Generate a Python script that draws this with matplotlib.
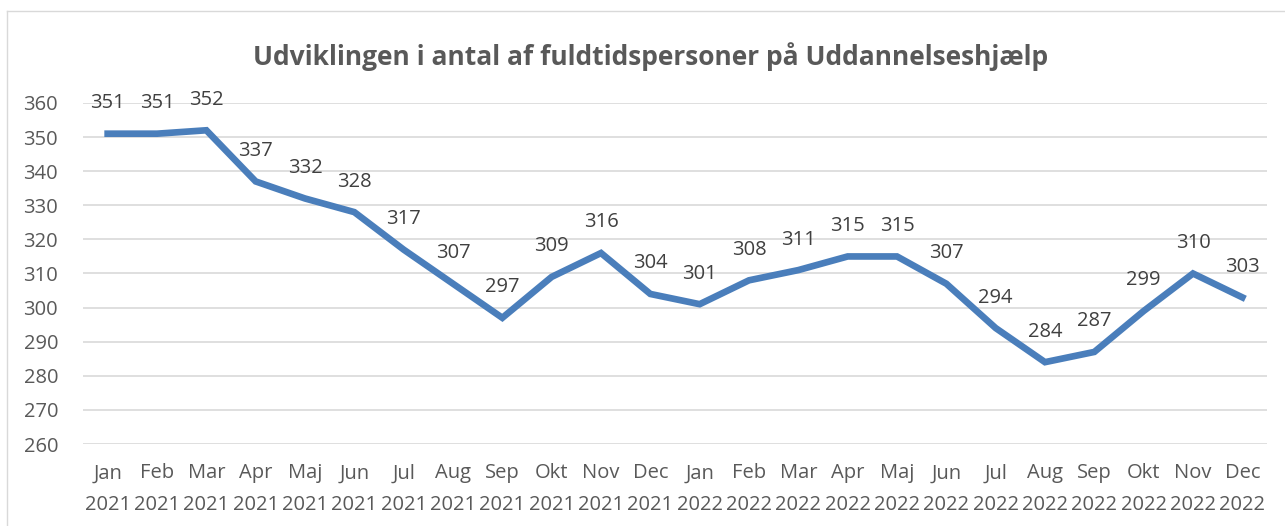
import matplotlib.pyplot as plt
from matplotlib.lines import Line2D

# data
maaneder = ['Jan', 'Feb', 'Mar', 'Apr', 'Maj', 'Jun', 'Jul', 'Aug', 'Sep', 'Okt', 'Nov', 'Dec']
aar = ['2021', '2022']
labels = [m + '\n' + a for a in aar for m in maaneder]
vaerdier = [351, 351, 352, 337, 332, 328, 317, 307, 297, 309, 316, 304,
            301, 308, 311, 315, 315, 307, 294, 284, 287, 299, 310, 303]
y_ticks = [260, 270, 280, 290, 300, 310, 320, 330, 340, 350, 360]

plt.rcParams['font.family'] = ['Open Sans', 'DejaVu Sans']
tekst = '#595959'

fig = plt.figure(figsize=(12.85, 5.26), dpi=100)
ax = fig.add_axes([83/1285, 1-444/526, (1267-83)/1285, (444-103)/526])

x = list(range(len(vaerdier)))
ax.plot(x, vaerdier, color='#4A7EBB', lw=4.8, solid_joinstyle='miter', zorder=3)
for xi, v in zip(x, vaerdier):
    ax.annotate(str(v), (xi, v), xytext=(0, 22), textcoords='offset points',
                ha='center', va='center', fontsize=14.5, color='#404040')

ax.set_xlim(-0.5, len(vaerdier) - 0.5)
ax.set_ylim(260, 360)
ax.set_yticks(y_ticks)
ax.set_xticks(x)
ax.set_xticklabels(labels, linespacing=1.8)
ax.tick_params(axis='both', length=0, labelsize=14.5, labelcolor=tekst)
ax.tick_params(axis='x', pad=14)
ax.tick_params(axis='y', pad=18)
ax.grid(axis='y', color='#D9D9D9', lw=1.2)
ax.set_axisbelow(True)
for s in ax.spines.values():
    s.set_visible(False)

fig.text(651/1285, 1-57/526, 'Udviklingen i antal af fuldtidspersoner på Uddannelseshjælp',
         ha='center', va='center', fontsize=19, fontweight='bold', color=tekst)

# chart border
fig.add_artist(Line2D([7/1285, 7/1285], [0, 1-11/526], color='#D9D9D9', lw=1))
fig.add_artist(Line2D([7/1285, 1], [1-11/526, 1-11/526], color='#D9D9D9', lw=1))

fig.savefig('out.png', dpi=100)
